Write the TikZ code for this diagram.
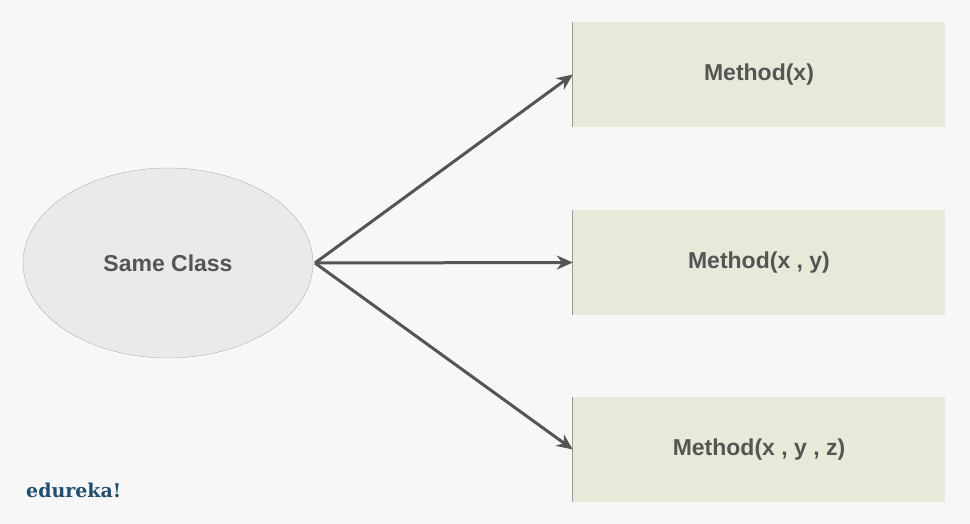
\documentclass[tikz,border=0pt]{standalone}
\usepackage{fontspec}
\setmainfont{Liberation Sans}
\newfontfamily\logofont{DejaVu Serif}
\usetikzlibrary{shapes.geometric,arrows.meta}
\definecolor{bgc}{HTML}{F7F7F7}
\definecolor{boxc}{HTML}{E6EAD9}
\definecolor{ellc}{HTML}{E8EAEC}
\definecolor{txtc}{HTML}{555555}
\definecolor{arrc}{HTML}{555555}
\definecolor{logoc}{HTML}{1F4E6E}
\begin{document}
\begin{tikzpicture}[x=1pt,y=-1pt,
  mbox/.style={fill=boxc,draw=none,minimum width=372pt,minimum height=105pt,inner sep=0pt,font=\fontsize{23}{26}\selectfont\bfseries,text=txtc},
  conn/.style={draw=arrc,line width=3pt,-{Stealth[length=16pt,width=14pt]}}]
\fill[bgc] (0,0) rectangle (970,524);
\useasboundingbox (0,0) rectangle (970,524);
\node[ellipse,fill=ellc,draw=gray!60,minimum width=290pt,minimum height=190pt,inner sep=0pt,font=\fontsize{23}{26}\selectfont\bfseries,text=txtc] (e) at (168,263) {Same Class};
\node[mbox] (b1) at (759,74.5) {Method(x)};
\node[mbox] (b2) at (759,262.5) {Method(x , y)};
\node[mbox] (b3) at (759,449.5) {Method(x , y , z)};
\foreach \b in {b1,b2,b3}{\draw[gray!80,line width=1pt] (\b.north west) -- (\b.south west);}
\coordinate (s) at (315,263);
\draw[conn] (s) -- (b1.west);
\draw[conn] (s) -- (b2.west);
\draw[conn] (s) -- (b3.west);
\node[font=\logofont\bfseries\fontsize{19}{22}\selectfont,text=logoc,anchor=west,inner sep=0pt] (logo) at (26,490) {edureka!};
\end{tikzpicture}
\end{document}
